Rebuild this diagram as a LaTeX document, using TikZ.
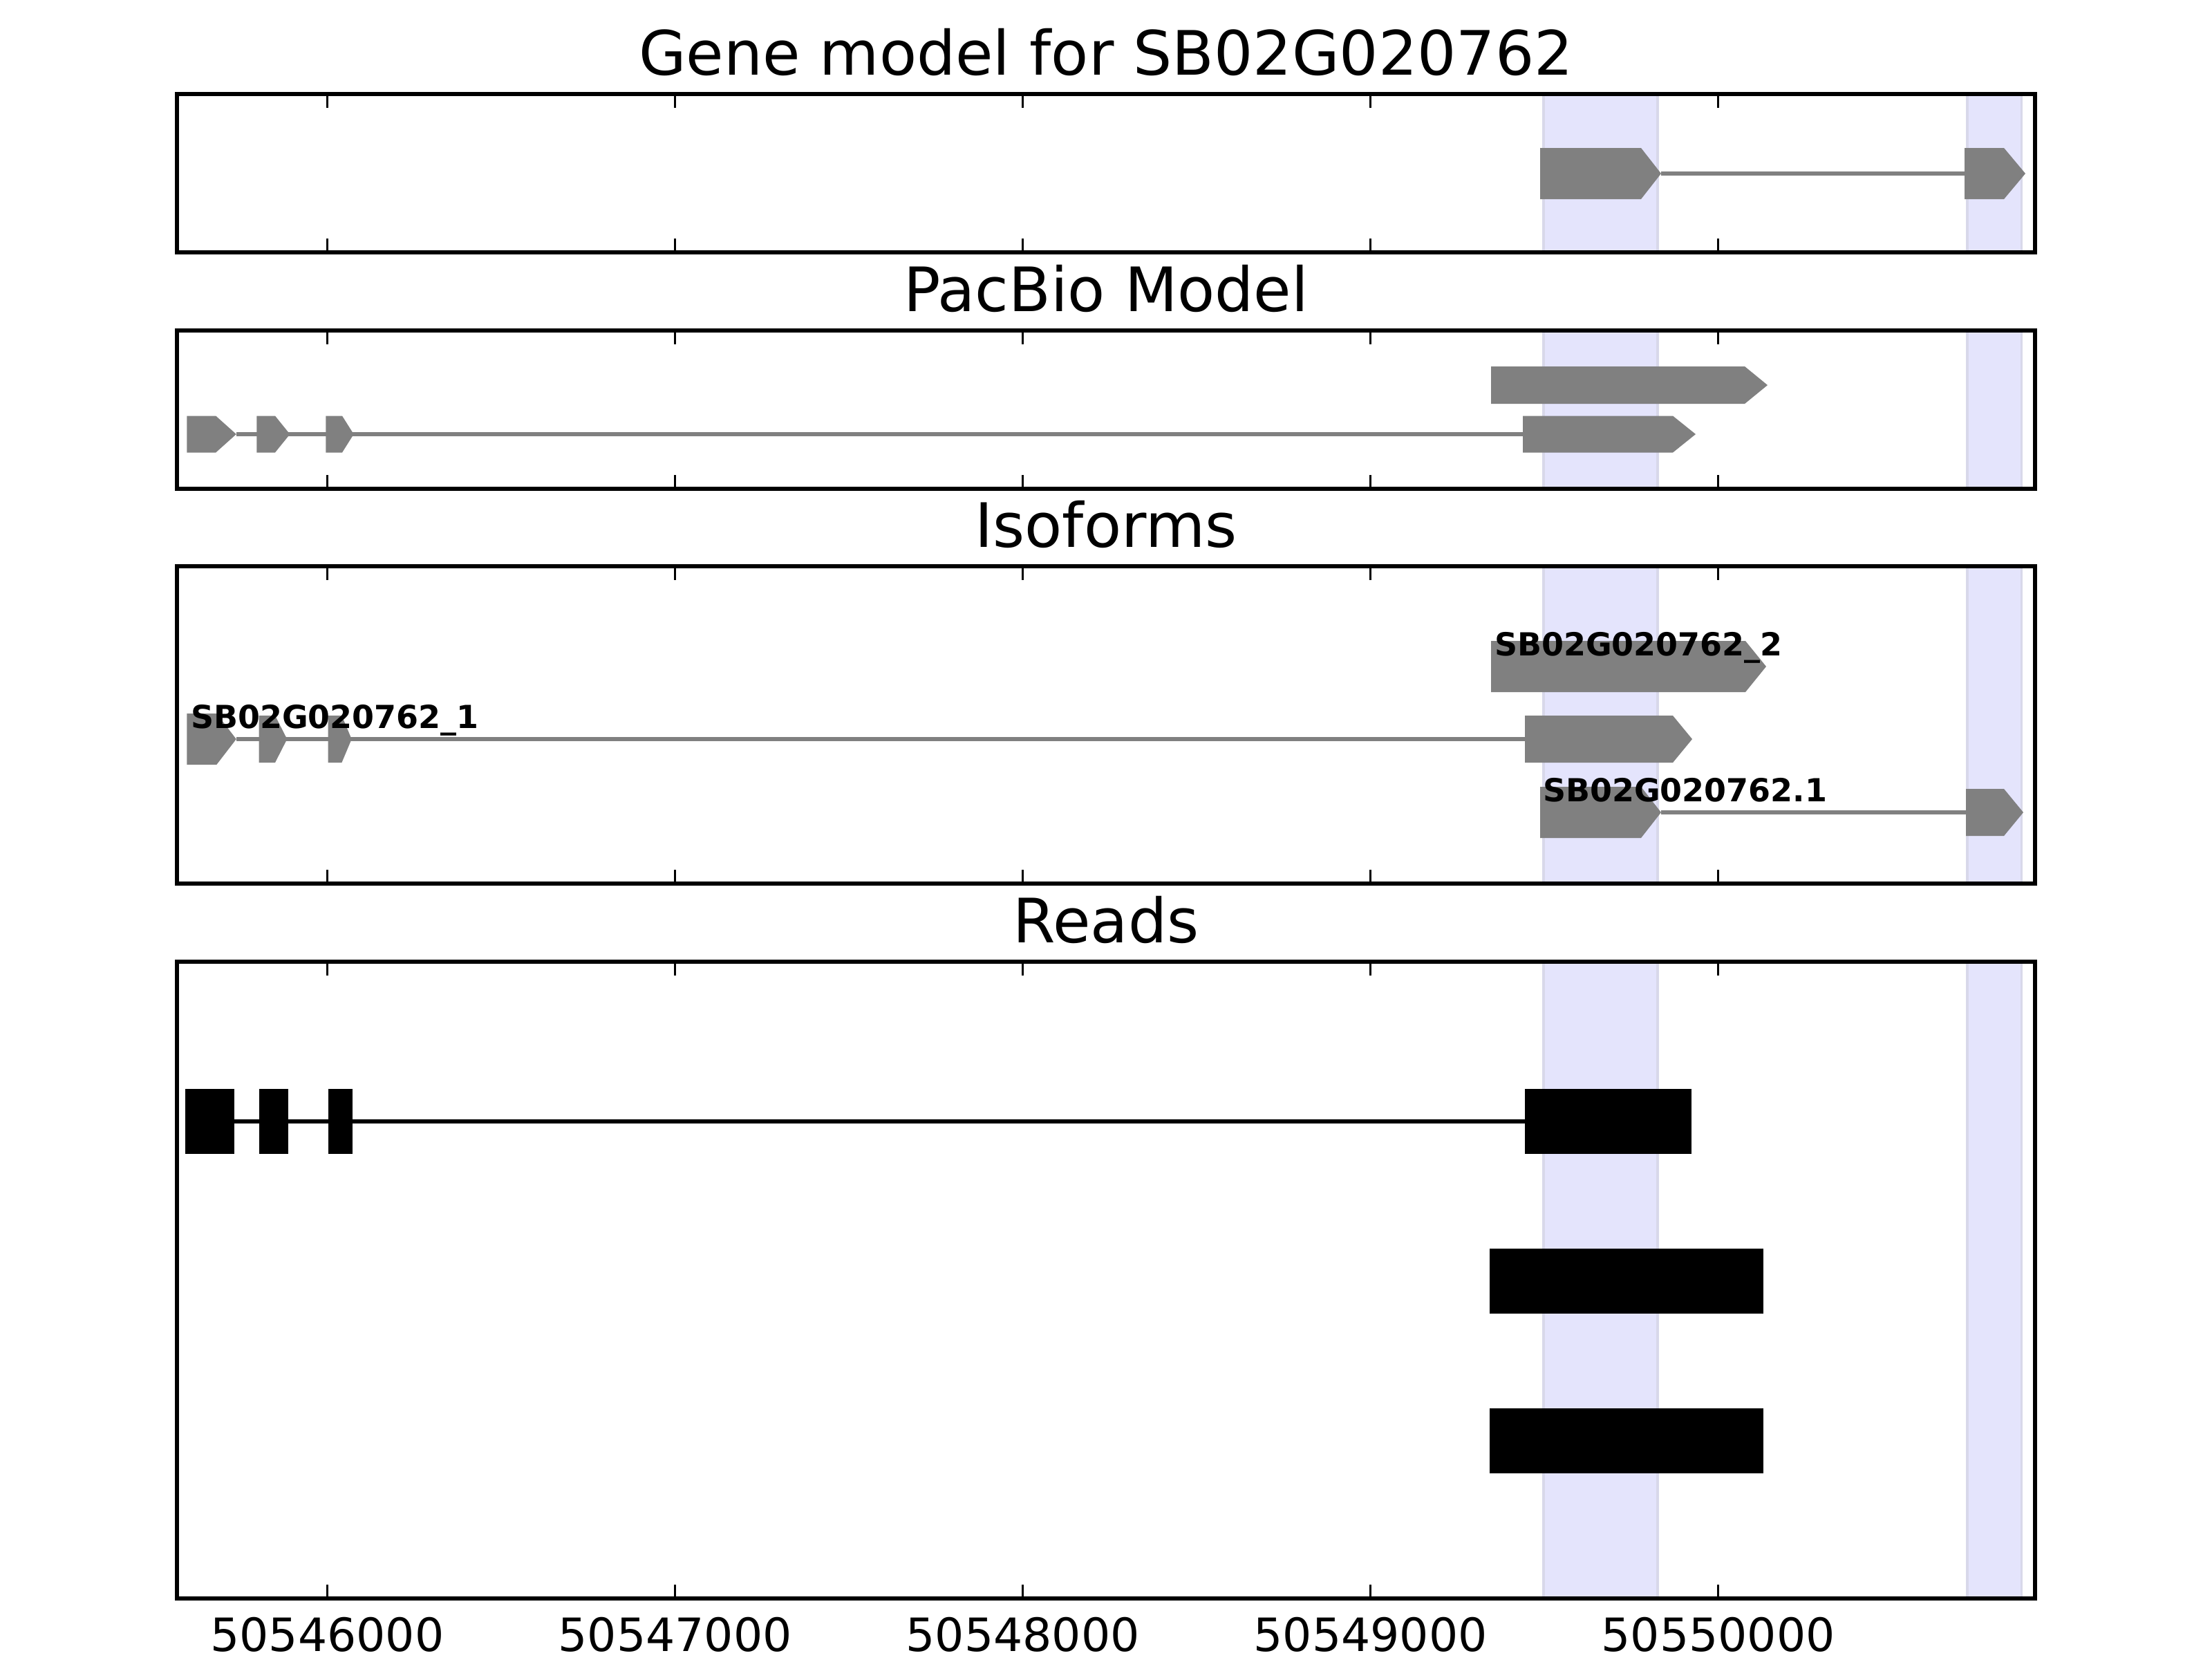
\documentclass[tikz,border=0pt]{standalone}
\usepackage{fontspec}
\setmainfont{DejaVu Sans}
\usepackage{tikz}
\definecolor{bandfill}{RGB}{228,228,252}
\definecolor{bandedge}{RGB}{216,216,234}
\definecolor{exongray}{RGB}{128,128,128}

\begin{document}
\begin{tikzpicture}[x=0.635cm,y=-0.635cm]
\tikzstyle{every node}+=[inner sep=0pt]
\tikzstyle{band}=[fill=bandfill, draw=bandedge, line width=0.6pt]
\tikzstyle{exon}=[fill=exongray]
\tikzstyle{intron}=[draw=exongray, line width=1pt]
\tikzstyle{read}=[fill=black]
\tikzstyle{frame}=[draw=black, line width=1pt]
\tikzstyle{tick}=[draw=black, line width=0.5pt]
\tikzstyle{title}=[anchor=base, font=\fontsize{16}{19}\selectfont]
\tikzstyle{isolabel}=[anchor=base west, font=\fontsize{8.3}{10}\selectfont\bfseries]
\tikzstyle{ticklabel}=[anchor=north, font=\fontsize{12}{14}\selectfont]
\useasboundingbox (0,0) rectangle (32,24);
% highlighted regions
\draw [band] (22.33,1.36) rectangle (23.98,3.65);
\draw [band] (28.46,1.36) rectangle (29.245,3.65);
\draw [band] (22.33,4.78) rectangle (23.98,7.07);
\draw [band] (28.46,4.78) rectangle (29.245,7.07);
\draw [band] (22.33,8.19) rectangle (23.98,12.78);
\draw [band] (28.46,8.19) rectangle (29.245,12.78);
\draw [band] (22.33,13.91) rectangle (23.98,23.12);
\draw [band] (28.46,13.91) rectangle (29.245,23.12);
% gene model
\draw [intron] (24.03,2.51) -- (28.42,2.51);
\fill [exon] (22.28,2.14) -- (23.74,2.14) -- (24.03,2.51) -- (23.74,2.88) -- (22.28,2.88) -- cycle;
\fill [exon] (28.42,2.14) -- (28.99,2.14) -- (29.30,2.51) -- (28.99,2.88) -- (28.42,2.88) -- cycle;
% pacbio model
\fill [exon] (21.57,5.30) -- (25.24,5.30) -- (25.57,5.57) -- (25.24,5.84) -- (21.57,5.84) -- cycle;
\draw [intron] (3.418,6.28) -- (22.03,6.28);
\fill [exon] (2.704,6.015) -- (3.122,6.015) -- (3.418,6.28) -- (3.122,6.545) -- (2.704,6.545) -- cycle;
\fill [exon] (3.714,6.015) -- (3.98,6.015) -- (4.194,6.28) -- (3.98,6.545) -- (3.714,6.545) -- cycle;
\fill [exon] (4.714,6.015) -- (4.95,6.015) -- (5.117,6.28) -- (4.95,6.545) -- (4.714,6.545) -- cycle;
\fill [exon] (22.03,6.015) -- (24.20,6.015) -- (24.53,6.28) -- (24.20,6.545) -- (22.03,6.545) -- cycle;
% isoforms
\fill [exon] (21.57,9.27) -- (25.25,9.27) -- (25.55,9.64) -- (25.25,10.01) -- (21.57,10.01) -- cycle;
\draw [intron] (3.418,10.69) -- (22.06,10.69);
\fill [exon] (2.704,10.32) -- (3.133,10.32) -- (3.418,10.69) -- (3.133,11.06) -- (2.704,11.06) -- cycle;
\fill [exon] (3.745,10.35) -- (3.98,10.35) -- (4.153,10.69) -- (3.98,11.03) -- (3.745,11.03) -- cycle;
\fill [exon] (4.745,10.35) -- (4.944,10.35) -- (5.087,10.69) -- (4.944,11.03) -- (4.745,11.03) -- cycle;
\fill [exon] (22.06,10.35) -- (24.20,10.35) -- (24.48,10.69) -- (24.20,11.03) -- (22.06,11.03) -- cycle;
\draw [intron] (24.03,11.75) -- (28.44,11.75);
\fill [exon] (22.28,11.38) -- (23.74,11.38) -- (24.03,11.75) -- (23.74,12.12) -- (22.28,12.12) -- cycle;
\fill [exon] (28.44,11.41) -- (28.99,11.41) -- (29.27,11.75) -- (28.99,12.09) -- (28.44,12.09) -- cycle;
\node [isolabel] (iso2) at (21.61,9.48) {SB02G020762\_2};
\node [isolabel] (iso1) at (2.75,10.53) {SB02G020762\_1};
\node [isolabel] (isoref) at (22.31,11.59) {SB02G020762.1};
% reads
\draw [black, line width=1pt] (2.684,16.22) -- (22.06,16.22);
\fill [read] (2.684,15.75) rectangle (3.393,16.69);
\fill [read] (3.745,15.75) rectangle (4.173,16.69);
\fill [read] (4.745,15.75) rectangle (5.097,16.69);
\fill [read] (22.06,15.75) rectangle (24.47,16.69);
\fill [read] (21.55,18.06) rectangle (25.51,19.00);
\fill [read] (21.55,20.37) rectangle (25.51,21.31);
% frames
\draw [frame] (2.56,1.36) rectangle (29.44,3.65);
\draw [frame] (2.56,4.78) rectangle (29.44,7.07);
\draw [frame] (2.56,8.19) rectangle (29.44,12.78);
\draw [frame] (2.56,13.91) rectangle (29.44,23.12);
\draw [tick] (4.735,1.36) -- (4.735,1.56) (9.766,1.36) -- (9.766,1.56) (14.796,1.36) -- (14.796,1.56) (19.827,1.36) -- (19.827,1.56) (24.857,1.36) -- (24.857,1.56)
  (4.735,3.65) -- (4.735,3.45) (9.766,3.65) -- (9.766,3.45) (14.796,3.65) -- (14.796,3.45) (19.827,3.65) -- (19.827,3.45) (24.857,3.65) -- (24.857,3.45);
\draw [tick] (4.735,4.78) -- (4.735,4.98) (9.766,4.78) -- (9.766,4.98) (14.796,4.78) -- (14.796,4.98) (19.827,4.78) -- (19.827,4.98) (24.857,4.78) -- (24.857,4.98)
  (4.735,7.07) -- (4.735,6.87) (9.766,7.07) -- (9.766,6.87) (14.796,7.07) -- (14.796,6.87) (19.827,7.07) -- (19.827,6.87) (24.857,7.07) -- (24.857,6.87);
\draw [tick] (4.735,8.19) -- (4.735,8.39) (9.766,8.19) -- (9.766,8.39) (14.796,8.19) -- (14.796,8.39) (19.827,8.19) -- (19.827,8.39) (24.857,8.19) -- (24.857,8.39)
  (4.735,12.78) -- (4.735,12.58) (9.766,12.78) -- (9.766,12.58) (14.796,12.78) -- (14.796,12.58) (19.827,12.78) -- (19.827,12.58) (24.857,12.78) -- (24.857,12.58);
\draw [tick] (4.735,13.91) -- (4.735,14.11) (9.766,13.91) -- (9.766,14.11) (14.796,13.91) -- (14.796,14.11) (19.827,13.91) -- (19.827,14.11) (24.857,13.91) -- (24.857,14.11)
  (4.735,23.12) -- (4.735,22.92) (9.766,23.12) -- (9.766,22.92) (14.796,23.12) -- (14.796,22.92) (19.827,23.12) -- (19.827,22.92) (24.857,23.12) -- (24.857,22.92);
% titles and axis labels
\node [title] (genetitle) at (16,1.083) {Gene model for SB02G020762};
\node [title] (pacbiotitle) at (16,4.502) {PacBio Model};
\node [title] (isotitle) at (16,7.912) {Isoforms};
\node [title] (readstitle) at (16,13.632) {Reads};
\node [ticklabel] (lab46) at (4.735,23.38) {50546000};
\node [ticklabel] (lab47) at (9.766,23.38) {50547000};
\node [ticklabel] (lab48) at (14.796,23.38) {50548000};
\node [ticklabel] (lab49) at (19.827,23.38) {50549000};
\node [ticklabel] (lab50) at (24.857,23.38) {50550000};
\end{tikzpicture}
\end{document}
